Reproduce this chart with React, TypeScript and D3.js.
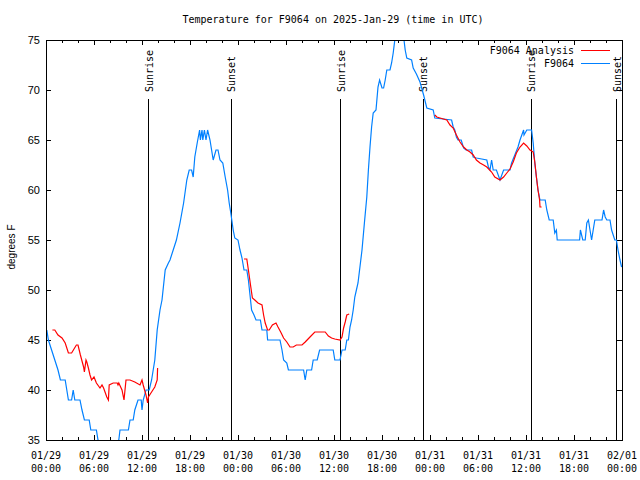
import * as React from "react"
import * as d3 from "d3"

// hours since 2025-01-29 00:00 UTC
const obsHours = [
  0.1, 0.3, 0.7, 1.1, 1.5, 1.8, 2.4, 2.8, 3.2, 3.4, 3.6, 4.25, 4.5, 4.8, 5.4, 5.6, 6.3, 6.5, 6.8,
  8.75, 9.1, 9.25, 10.3, 10.5, 10.9, 11.1, 11.5, 11.9, 12.0, 12.15, 12.5, 12.9, 13.2, 13.6, 13.9,
  14.25, 14.5, 14.9, 15.3, 15.5, 15.9, 16.3, 16.75, 17.2, 17.6, 17.9, 18.2, 18.4, 18.6, 18.9, 19.2,
  19.3, 19.5, 19.6, 19.8, 20.0, 20.2, 20.5, 20.7, 20.9, 21.25, 21.5, 21.75, 22.1, 22.4, 22.7, 22.9,
  23.1, 23.4, 23.6, 24.0, 24.25, 24.5, 24.75, 25.1, 25.3, 25.5, 25.7, 26.0, 26.25, 26.8, 27.0, 27.6,
  27.7, 29.25, 29.5, 29.7, 30.1, 30.3, 32.2, 32.4, 32.6, 33.2, 33.4, 33.9, 34.2, 35.9, 36.1, 36.75,
  37.0, 37.4, 37.6, 37.8, 38.0, 38.2, 38.4, 38.6, 38.8, 39.0, 39.5, 39.8, 40.1, 40.3, 40.5, 40.7,
  40.9, 41.25, 41.5, 41.7, 42.0, 42.2, 42.4, 42.6, 43.0, 43.2, 43.4, 43.6, 43.9, 44.6, 44.9, 45.1,
  45.7, 45.9, 46.3, 46.75, 47.2, 47.6, 48.4, 48.6, 50.7, 50.9, 51.1, 51.3, 51.5, 51.9, 52.2, 52.5,
  53.2, 53.4, 53.8, 55.1, 55.3, 55.5, 55.7, 55.9, 56.3, 56.75, 57.2, 57.8, 58.0, 58.2, 58.6, 59.0,
  59.25, 59.7, 59.75, 60.1, 60.7, 60.9, 61.1, 61.3, 61.5, 61.75, 62.4, 62.6, 62.9, 63.4, 63.6, 63.8,
  63.9, 66.7, 66.8, 67.1, 67.4, 67.6, 67.8, 68.0, 68.2, 68.4, 68.6, 69.5, 69.7, 69.9, 70.1, 70.5,
  70.7, 71.1, 71.3, 71.5, 71.75, 71.95,
]
const obsTemps = [
  46, 45, 44, 43, 42, 41, 41, 39, 39, 40, 39, 39, 38, 37, 37, 36, 36, 35, 34,
  34, 35, 36, 36, 37, 37, 38, 39, 39, 38, 39, 40, 40, 41, 43, 46,
  48, 49, 52, 52.7, 53, 54, 55, 56.7, 58.7, 61, 62, 62, 61.3, 63.3, 64.7, 66,
  65, 66, 65, 66, 65, 66, 65, 64, 63, 64, 64, 63, 62.7, 61.3, 60, 58.7,
  57.7, 56, 55.2, 55, 54, 53.2, 52, 52, 51, 49.5, 48, 47.5, 47, 47, 46, 46,
  45, 45, 44, 43, 42.7, 42, 42, 41, 42, 42, 43, 43, 44, 44, 43, 43,
  44, 44, 45, 45, 46.3, 47, 48, 49.3, 50, 50.7, 54, 56.7, 59.3, 62, 64.3, 66.3,
  67.7, 68, 70.3, 71, 70.2, 70.2, 71, 72, 72, 72.7, 73.7, 75, 76, 76, 74, 73.2,
  73, 72.2, 71.6, 70.8, 69.5, 68.2, 68, 67.2, 67, 66.3, 66, 65.3, 65, 65, 64.2, 64,
  64, 63.3, 63.2, 63, 62.3, 62, 63, 62, 62, 61, 62, 62, 62, 62.7, 63.5, 64.3,
  65, 66, 65.5, 66, 66, 64.7, 62.7, 61.3, 60, 59, 59, 58, 57, 57, 55.7, 56,
  55, 55, 56, 55, 55, 56.7, 57, 56, 55, 56, 57, 57, 58, 57.3, 57, 57,
  56, 55, 55, 54, 53, 52.3,
]

// analysis series, null = gap
const anaHours = [
  0.8, 1.1, 1.5, 2.0, 2.4, 2.8, 3.2, 3.8, 4.0, 4.3, 4.7, 4.8, 5.0, 5.1, 5.3, 5.5, 5.7, 6.0, 6.3,
  6.75, 7.0, 7.2, 7.6, 7.8, 7.9, 8.4, 8.9, 9.0, 9.1, 9.5, 9.75, 10.0, 10.5, 11.1, 11.75, 12.0,
  12.15, 12.5, 12.7, 12.8, 13.2, 13.6, 13.9, 13.95, null,
  24.75, 25.1, 25.3, 25.6, 25.8, 26.1, 26.5, 27.0, 27.2, 27.4, 27.7, 27.9, 28.3, 28.75, 29.0, 29.4,
  29.7, 30.1, 30.5, 30.9, 31.3, 32.0, 32.4, 33.0, 33.6, 34.9, 35.3, 35.7, 36.1, 36.75, 37.0, 37.2,
  37.4, 37.6, 37.9, null,
  48.6, 48.85, 49.25, 50.1, 50.5, 50.9, 51.3, 51.75, 52.2, 52.6, 53.0, 53.4, 53.8, 54.25, 54.7,
  55.1, 55.7, 56.1, 56.75, 57.2, 57.6, 58.0, 58.4, 58.8, 59.25, 59.7, 60.1, 60.5, 60.7, 60.9, 61.1,
  61.3, 61.5, 61.7, 61.75, 61.95,
]
const anaTemps = [
  46, 46, 45.5, 45.2, 44.7, 43.7, 43.7, 44.5, 44.5, 43.5, 42.3, 41.8, 43, 42.8, 42.2, 41.5, 41, 41.3, 40.7,
  40.2, 40.5, 40.2, 39.3, 39, 40.5, 40.7, 40.7, 40.5, 40.7, 40, 39, 41, 41, 40.8, 40.5, 41,
  40.5, 39.5, 38.7, 39.3, 39.8, 40.3, 41, 42.2, null,
  53.1, 53.1, 52, 50.3, 49.2, 49, 48.7, 48.5, 47.5, 46.7, 46, 46, 46.5, 46.7, 46.3, 45.7,
  45.2, 44.8, 44.3, 44.3, 44.5, 44.5, 44.8, 45.3, 45.8, 45.8, 45.4, 45.2, 45.1, 45, 45.3, 46.2,
  46.8, 47.5, 47.6, null,
  67.5, 67.3, 67.2, 67, 66.5, 66.2, 65.5, 64.8, 64.3, 64, 63.8, 63.5, 63, 62.7, 62.5,
  62.3, 61.8, 61.3, 61, 61.3, 61.7, 62.1, 62.8, 63.7, 64.3, 64.7, 64.4, 64, 63.9, 63.8, 62.8,
  61.3, 60, 59, 58.3, 58.3,
]

const sunEvents = [
  { h: 12.75, label: "Sunrise" },
  { h: 23.1, label: "Sunset" },
  { h: 36.75, label: "Sunrise" },
  { h: 47.1, label: "Sunset" },
  { h: 60.6, label: "Sunrise" },
  { h: 71.25, label: "Sunset" },
]

const xTickHours = [0, 6, 12, 18, 24, 30, 36, 42, 48, 54, 60, 66, 72]
const xTickDates = ["01/29", "01/29", "01/29", "01/29", "01/30", "01/30", "01/30", "01/30", "01/31", "01/31", "01/31", "01/31", "02/01"]
const xTickTimes = ["00:00", "06:00", "12:00", "18:00", "00:00", "06:00", "12:00", "18:00", "00:00", "06:00", "12:00", "18:00", "00:00"]
const yTicks = [35, 40, 45, 50, 55, 60, 65, 70, 75]

const MONO = "'DejaVu Sans Mono', monospace"
const SANS = "'Liberation Sans', Arial, sans-serif"
const BLUE = "#0080ff"
const RED = "#ff0000"

function render(svgRef: React.RefObject<SVGSVGElement>) {
  const width = 640
  const height = 480
  const margin = { top: 40, right: 18, bottom: 40, left: 46 }

  const svg = d3.select(svgRef.current).attr("width", width).attr("height", height)
  svg.selectAll("*").remove()

  const x = d3.scaleLinear().domain([0, 72]).range([margin.left, width - margin.right])
  const y = d3.scaleLinear().domain([35, 75]).range([height - margin.bottom, margin.top])

  svg.append("rect").attr("width", width).attr("height", height).attr("fill", "#fff")

  svg
    .append("defs")
    .append("clipPath")
    .attr("id", "plotclip")
    .append("rect")
    .attr("x", x(0))
    .attr("y", y(75))
    .attr("width", x(72) - x(0))
    .attr("height", y(35) - y(75))

  // title
  svg
    .append("text")
    .attr("x", 333)
    .attr("y", 23)
    .attr("text-anchor", "middle")
    .attr("font-family", MONO)
    .attr("font-size", "10px")
    .text("Temperature for F9064 on 2025-Jan-29 (time in UTC)")

  // x ticks (every 2h, longer every 6h), top and bottom
  const minor = d3.range(0, 73, 2)
  const tk = svg.append("g").attr("stroke", "#000").attr("shape-rendering", "crispEdges")
  minor.forEach((h) => {
    const len = h % 6 === 0 ? 5 : 3
    tk.append("line").attr("x1", x(h)).attr("x2", x(h)).attr("y1", y(35)).attr("y2", y(35) - len)
    tk.append("line").attr("x1", x(h)).attr("x2", x(h)).attr("y1", y(75)).attr("y2", y(75) + len)
  })
  yTicks.forEach((t) => {
    tk.append("line").attr("x1", x(0)).attr("x2", x(0) + 5).attr("y1", y(t)).attr("y2", y(t))
    tk.append("line").attr("x1", x(72)).attr("x2", x(72) - 5).attr("y1", y(t)).attr("y2", y(t))
  })

  // y tick labels
  svg
    .append("g")
    .selectAll("text")
    .data(yTicks)
    .join("text")
    .attr("x", 40)
    .attr("y", (d) => y(d))
    .attr("dy", "0.35em")
    .attr("text-anchor", "end")
    .attr("font-family", SANS)
    .attr("font-size", "11px")
    .text((d) => d)

  // x tick labels
  const xl = svg.append("g").attr("font-family", MONO).attr("font-size", "10px").attr("text-anchor", "middle")
  xTickHours.forEach((h, i) => {
    xl.append("text").attr("x", x(h)).attr("y", 459).text(xTickDates[i])
    xl.append("text").attr("x", x(h)).attr("y", 472).text(xTickTimes[i])
  })

  svg
    .append("text")
    .attr("transform", "translate(11,247) rotate(-90)")
    .attr("dy", "0.35em")
    .attr("text-anchor", "middle")
    .attr("font-family", SANS)
    .attr("font-size", "10px")
    .text("degrees F")

  // sunrise / sunset markers
  const sun = svg.append("g")
  sunEvents.forEach((e) => {
    sun
      .append("line")
      .attr("x1", Math.round(x(e.h)) + 0.5)
      .attr("x2", Math.round(x(e.h)) + 0.5)
      .attr("y1", 99)
      .attr("y2", y(35))
      .attr("stroke", "#000")
      .attr("shape-rendering", "crispEdges")
    sun
      .append("text")
      .attr("transform", `translate(${x(e.h) + 1},92) rotate(-90)`)
      .attr("dy", "0.35em")
      .attr("text-anchor", "start")
      .attr("font-family", MONO)
      .attr("font-size", "10px")
      .text(e.label)
  })

  const obs = obsHours.map((h, i) => [h, obsTemps[i]] as [number, number | null])
  const ana = anaHours.map((h, i) => [h, anaTemps[i]] as [number | null, number | null])

  const line = d3
    .line<[number | null, number | null]>()
    .defined((d) => d[0] != null && d[1] != null)
    .x((d) => x(d[0] as number))
    .y((d) => y(d[1] as number))

  const plot = svg.append("g").attr("clip-path", "url(#plotclip)")
  plot.append("path").attr("d", line(obs)).attr("fill", "none").attr("stroke", BLUE).attr("stroke-width", 1.2)
  plot.append("path").attr("d", line(ana)).attr("fill", "none").attr("stroke", RED).attr("stroke-width", 1.2)

  // legend
  const lg = svg.append("g").attr("font-family", MONO).attr("font-size", "10px")
  lg.append("text").attr("x", 574).attr("y", 50).attr("dy", "0.35em").attr("text-anchor", "end").text("F9064 Analysis")
  lg.append("line").attr("x1", 581).attr("x2", 610).attr("y1", 50.5).attr("y2", 50.5).attr("stroke", RED)
  lg.append("text").attr("x", 574).attr("y", 63).attr("dy", "0.35em").attr("text-anchor", "end").text("F9064")
  lg.append("line").attr("x1", 581).attr("x2", 610).attr("y1", 63.5).attr("y2", 63.5).attr("stroke", BLUE)

  // frame
  svg
    .append("rect")
    .attr("x", x(0) + 0.5)
    .attr("y", y(75) + 0.5)
    .attr("width", x(72) - x(0))
    .attr("height", y(35) - y(75))
    .attr("fill", "none")
    .attr("stroke", "#000")
    .attr("shape-rendering", "crispEdges")
}

export default function App(): React.JSX.Element {
  const svg = React.useRef<SVGSVGElement>(null)

  React.useEffect(() => {
    render(svg)
  }, [])

  return <svg ref={svg} style={{ position: "absolute", left: 0, top: 0 }}></svg>
}
